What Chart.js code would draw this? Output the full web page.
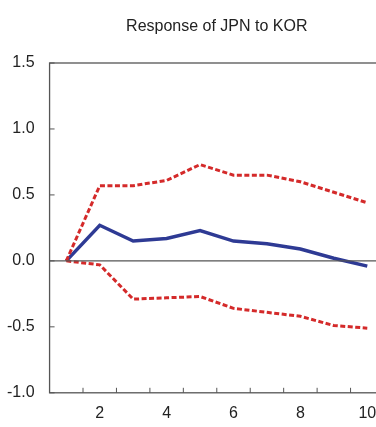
<!DOCTYPE html>
<html>
<head>
<meta charset="utf-8">
<script src="https://cdn.jsdelivr.net/npm/chart.js@4/dist/chart.umd.min.js"></script>
<style>
  html, body { margin: 0; padding: 0; background: #fff; overflow: hidden; }
  #wrap { width: 386px; height: 427px; }
</style>
</head>
<body>
<div id="wrap"><canvas id="irf" width="386" height="427"></canvas></div>
<script>
const chartTitle = "Response of JPN to KOR";
const periods = [1, 2, 3, 4, 5, 6, 7, 8, 9, 10];
const response = [0, 0.27, 0.15, 0.17, 0.23, 0.15, 0.13, 0.09, 0.02, -0.04];
const upperBand = [0, 0.57, 0.57, 0.61, 0.73, 0.65, 0.65, 0.60, 0.52, 0.44];
const lowerBand = [0, -0.03, -0.29, -0.28, -0.27, -0.36, -0.39, -0.42, -0.49, -0.51];
const xTickLabels = [2, 4, 6, 8, 10];
const yTickValues = [-1.0, -0.5, 0.0, 0.5, 1.0, 1.5];

const fontFamily = "'Liberation Sans', Arial, sans-serif";
const axisFont = { family: fontFamily, size: 16 };

function toPoints(vals) {
  return periods.map((p, i) => ({ x: p, y: vals[i] }));
}

// box, zero line, inward tick marks and the title centred over the plot
const frame = {
  id: "frame",
  afterDatasetsDraw(chart) {
    const { ctx, chartArea: a, scales } = chart;
    ctx.save();
    ctx.strokeStyle = "#555";
    ctx.lineWidth = 1.3;
    ctx.strokeRect(a.left, a.top, a.right - a.left, a.bottom - a.top);
    const y0 = scales.y.getPixelForValue(0);
    ctx.beginPath();
    ctx.moveTo(a.left, y0);
    ctx.lineTo(a.right, y0);
    ctx.stroke();
    ctx.lineWidth = 1;
    ctx.beginPath();
    for (let v = 1.5; v < 10; v += 1) {
      const px = scales.x.getPixelForValue(v);
      ctx.moveTo(px, a.bottom);
      ctx.lineTo(px, a.bottom - 5);
    }
    yTickValues.forEach((v) => {
      const py = scales.y.getPixelForValue(v);
      ctx.moveTo(a.left, py);
      ctx.lineTo(a.left + 5, py);
    });
    ctx.stroke();

    ctx.fillStyle = "#222";
    ctx.font = "16px " + fontFamily;
    ctx.textAlign = "center";
    ctx.textBaseline = "middle";
    ctx.fillText(chartTitle, (a.left + a.right) / 2, 27);
    ctx.restore();
  }
};

new Chart(document.getElementById("irf"), {
  type: "line",
  data: {
    datasets: [
      {
        data: toPoints(upperBand),
        borderColor: "#d42a2a",
        borderWidth: 3,
        borderDash: [5, 2.5],
        pointRadius: 0,
        fill: false
      },
      {
        data: toPoints(lowerBand),
        borderColor: "#d42a2a",
        borderWidth: 3,
        borderDash: [5, 2.5],
        pointRadius: 0,
        fill: false
      },
      {
        data: toPoints(response),
        borderColor: "#2e3a94",
        borderWidth: 3.5,
        pointRadius: 0,
        fill: false
      }
    ]
  },
  options: {
    responsive: false,
    animation: false,
    layout: { padding: { left: 0, right: 2, top: 63, bottom: 1 } },
    plugins: {
      legend: { display: false },
      tooltip: { enabled: false },
      title: { display: false }
    },
    scales: {
      x: {
        type: "linear",
        min: 0.5,
        max: 10.5,
        afterBuildTicks: (axis) => { axis.ticks = xTickLabels.map((v) => ({ value: v })); },
        grid: { display: false },
        border: { display: false },
        ticks: { color: "#222", font: axisFont, padding: 3, maxRotation: 0 }
      },
      y: {
        min: -1,
        max: 1.5,
        afterBuildTicks: (axis) => { axis.ticks = yTickValues.map((v) => ({ value: v })); },
        grid: { display: false },
        border: { display: false },
        ticks: {
          color: "#222",
          font: axisFont,
          padding: 7,
          callback: (v) => Number(v).toFixed(1)
        }
      }
    }
  },
  plugins: [frame]
});
</script>
</body>
</html>
